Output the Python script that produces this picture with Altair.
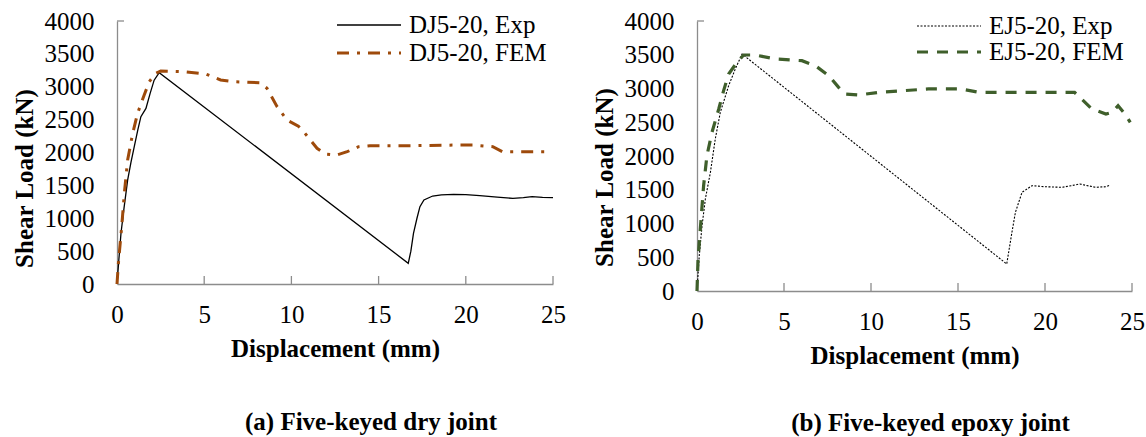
import altair as alt
import pandas as pd

FONT = "Liberation Serif"
AXIS_GRAY = "#8c8c8c"

# ---------------- data ----------------
x_ticks = [0, 5, 10, 15, 20, 25]
y_ticks = [0, 500, 1000, 1500, 2000, 2500, 3000, 3500, 4000]

dj_names = ["DJ5-20, Exp", "DJ5-20, FEM"]
ej_names = ["EJ5-20, Exp", "EJ5-20, FEM"]
captions = ["(a) Five-keyed dry joint", "(b) Five-keyed epoxy joint"]

dj_exp_x = [0, 0.1, 0.23, 0.4, 0.61, 0.8, 0.99, 1.2, 1.37, 1.66, 1.9, 2.13, 2.42,
            16.7, 16.85, 17.0, 17.2, 17.37, 17.6, 18.1, 18.6, 19.3, 20.0, 20.8,
            21.8, 22.7, 23.3, 23.8, 24.4, 25.0]
dj_exp_y = [0, 350, 776, 1150, 1580, 1850, 2090, 2350, 2545, 2670, 2900, 3100, 3215,
            315, 500, 771, 1000, 1176, 1278, 1338, 1355, 1364, 1360, 1343,
            1320, 1303, 1315, 1328, 1318, 1313]

dj_fem_x = [0, 0.08, 0.27, 0.42, 0.61, 0.9, 1.18, 1.56, 1.85, 2.23, 2.51, 3.85, 5.09,
            5.94, 6.7, 8.2, 8.6, 9.18, 9.75, 10.4, 10.7, 11.47, 11.94, 12.6, 13.2,
            13.85, 14.5, 17.0, 19.66, 20.4, 21.55, 22.1, 24.6]
dj_fem_y = [0, 315, 872, 1380, 1886, 2292, 2596, 2875, 3077, 3204, 3240, 3230, 3194,
            3103, 3077, 3062, 2976, 2697, 2494, 2400, 2317, 2064, 1977, 1962, 2012,
            2088, 2104, 2104, 2114, 2114, 2088, 2012, 2012]

ej_exp_x = [0, 0.13, 0.29, 0.48, 0.77, 1.05, 1.34, 1.82, 2.2, 2.59, 17.8, 18.1, 18.3,
            18.68, 19.25, 20.0, 20.98, 21.5, 22.0, 22.9, 23.5, 23.75]
ej_exp_y = [0, 523, 967, 1363, 1758, 2252, 2647, 3042, 3289, 3511, 400, 870, 1166,
            1462, 1560, 1545, 1536, 1560, 1585, 1536, 1545, 1570]

ej_fem_x = [0, 0.06, 0.19, 0.38, 0.57, 0.86, 1.25, 1.53, 1.82, 2.3, 2.68, 3.35, 4.5,
            6.03, 6.8, 7.57, 8.14, 8.5, 9.3, 10.44, 13.3, 15.2, 16.2, 21.7, 22.1,
            22.7, 23.5, 23.85, 24.2, 24.6, 24.9]
ej_fem_y = [0, 474, 918, 1560, 2004, 2350, 2696, 2968, 3215, 3388, 3496, 3496, 3437,
            3412, 3338, 3190, 3017, 2919, 2904, 2943, 2993, 2993, 2943, 2943, 2844,
            2696, 2622, 2647, 2745, 2622, 2499]

AXIS_STYLE = dict(
    domainColor=AXIS_GRAY, domainWidth=1.3, ticks=False, tickSize=0, grid=False,
    labelFont=FONT, labelFontSize=25, labelColor="black", labelFlush=False,
    labelOverlap=False, titleFont=FONT, titleFontSize=25, titleFontWeight="bold",
    titleColor="black", format="d",
)


def panel(exp_x, exp_y, fem_x, fem_y, names, exp_style, fem_style, w, h,
          caption, cap_dx, cap_offset, leg_rows, y_title_y):
    xs = alt.Scale(domain=[0, 25], nice=False, zero=False)
    ys = alt.Scale(domain=[0, 4000], nice=False)
    x_axis = alt.Axis(values=x_ticks, title="Displacement (mm)",
                      labelPadding=18, titlePadding=9, **AXIS_STYLE)
    y_axis = alt.Axis(values=y_ticks, title="Shear Load (kN)",
                      labelPadding=23, titlePadding=7, titleY=y_title_y,
                      **AXIS_STYLE)

    exp_df = pd.DataFrame({"x": exp_x, "y": exp_y, "i": range(len(exp_x))})
    fem_df = pd.DataFrame({"x": fem_x, "y": fem_y, "i": range(len(fem_x))})

    def line(df, style):
        return alt.Chart(df).mark_line(**style).encode(
            x=alt.X("x:Q", scale=xs, axis=x_axis),
            y=alt.Y("y:Q", scale=ys, axis=y_axis),
            order="i:Q",
        )

    xt = pd.DataFrame({"x": x_ticks[1:]})
    x_tick_layer = alt.Chart(xt).mark_rule(color=AXIS_GRAY, strokeWidth=1.3).encode(
        x=alt.X("x:Q", scale=xs, axis=x_axis),
        y=alt.value(h), y2=alt.value(h - 8),
    )
    yt = pd.DataFrame({"y": [y_ticks[-1]]})
    y_tick_layer = alt.Chart(yt).mark_rule(color=AXIS_GRAY, strokeWidth=1.3).encode(
        y=alt.Y("y:Q", scale=ys, axis=y_axis),
        x=alt.value(0), x2=alt.value(7),
    )

    one = pd.DataFrame({"k": [0]})
    legend_layers = []
    for name, style, row_y in zip(names, [exp_style, fem_style], leg_rows):
        legend_layers.append(
            alt.Chart(one).mark_rule(**style).encode(
                x=alt.value(220), x2=alt.value(284), y=alt.value(row_y)
            )
        )
        legend_layers.append(
            alt.Chart(pd.DataFrame({"label": [name]})).mark_text(
                align="left", baseline="middle", font=FONT, fontSize=25, color="black"
            ).encode(text="label:N", x=alt.value(292), y=alt.value(row_y))
        )

    return alt.layer(
        x_tick_layer, y_tick_layer,
        line(exp_df, exp_style), line(fem_df, fem_style),
        *legend_layers,
    ).properties(
        width=w, height=h,
        title=alt.TitleParams(
            caption, orient="bottom", anchor="middle", frame="group",
            dx=cap_dx, offset=cap_offset, font=FONT, fontSize=25,
            fontWeight="bold", color="black",
        ),
    )


left = panel(
    dj_exp_x, dj_exp_y, dj_fem_x, dj_fem_y, dj_names,
    dict(color="#000000", strokeWidth=1.3),
    dict(color="#9E4A0B", strokeWidth=3, strokeDash=[12, 8, 3, 8]),
    436, 263, captions[0], 36, 49, [4, 32], 157,
)
right = panel(
    ej_exp_x, ej_exp_y, ej_fem_x, ej_fem_y, ej_names,
    dict(color="#000000", strokeWidth=1.1, strokeDash=[2, 1.5]),
    dict(color="#3F5F2B", strokeWidth=3.2, strokeDash=[11, 9]),
    435, 270, captions[1], 16, 43, [5, 31], 156,
)

chart = alt.hconcat(left, right, spacing=25).properties(
    padding={"left": 11, "top": 8, "right": 0, "bottom": 0}
).configure_view(stroke="transparent")

chart.save("out.html", embed_options={"renderer": "svg", "actions": False})
